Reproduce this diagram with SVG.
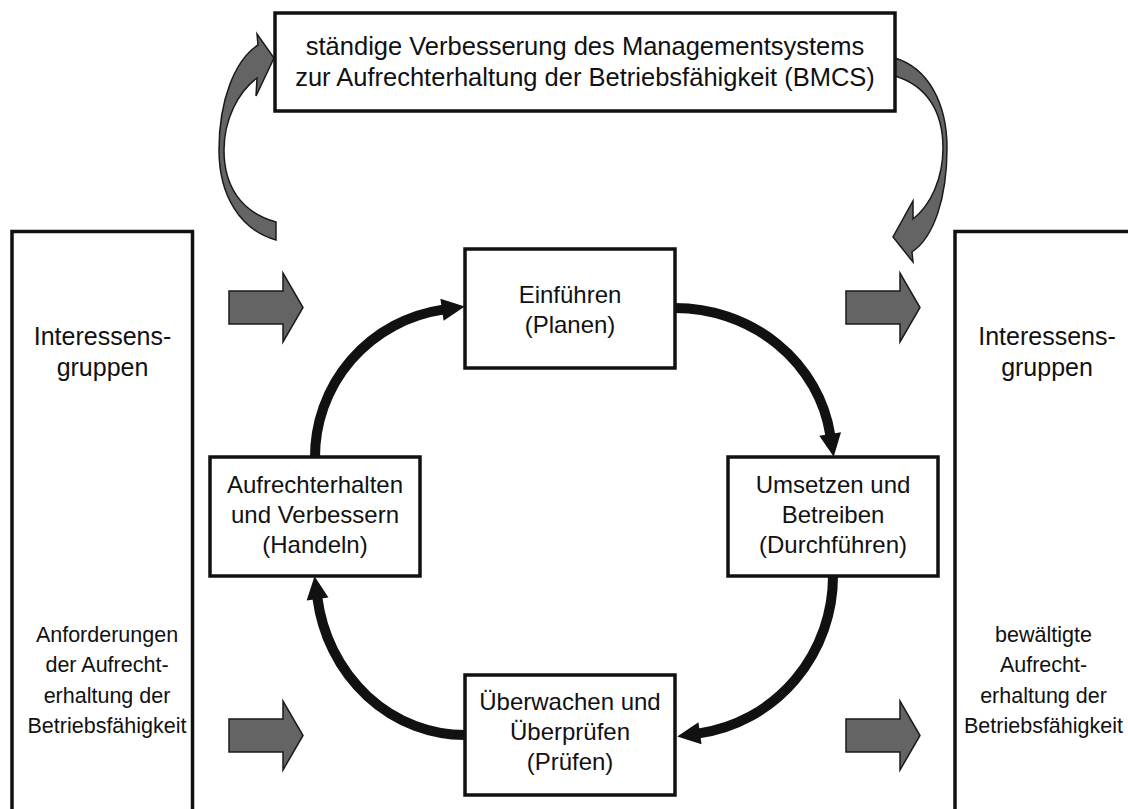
<svg xmlns="http://www.w3.org/2000/svg" width="1128" height="809" viewBox="0 0 1128 809">
<style>
  .box { fill: #fff; stroke: #111; stroke-width: 3.5; }
  .t { font-family: "Liberation Sans", Arial, Helvetica, sans-serif; fill: #111; text-anchor: middle; }
  .t24 { font-size: 24px; }
  .t25 { font-size: 25px; }
  .t26 { font-size: 25.5px; }
  .t21 { font-size: 21.5px; }
  .ga { fill: #646464; stroke: #1a1a1a; stroke-width: 1.5; stroke-linejoin: miter; }
  .cyc { fill: none; stroke: #111; stroke-width: 10; marker-end: url(#ah); }
</style>
<defs>
  <marker id="ah" markerUnits="userSpaceOnUse" markerWidth="28" markerHeight="28" viewBox="-3 -14 28 28" refX="0" refY="0" orient="auto">
    <path d="M-1,-11 L22,0 L-1,11 Z" fill="#111"/>
  </marker>
  <path id="blk" d="M0,0 H54 V-18 L74,16.5 L54,51 V33 H0 Z"/>
</defs>
<rect width="1128" height="809" fill="#fff"/>

<g id="connectors">
  <!-- curved gray arrows -->
  <path class="ga" d="M276,222 C240,212 224,185 224,150 C224,120 238,92 257,78 L256,96 L274,58 L257,34 L258,45 C235,60 219,100 219,150 C219,195 240,230 276,240 Z"/>
  <path class="ga" d="M895,76 C928,86 943,113 943,148 C943,178 931,205 913,219 L913,201 L893,237 L913,262 L912,252 C934,237 947,198 947,148 C947,103 928,68 895,58 Z"/>
  <!-- block arrows -->
  <use href="#blk" class="ga" transform="translate(229,291)"/>
  <use href="#blk" class="ga" transform="translate(229,719)"/>
  <use href="#blk" class="ga" transform="translate(846,291)"/>
  <use href="#blk" class="ga" transform="translate(846,719)"/>
  <!-- cycle arrows -->
  <path class="cyc" d="M315,458 A150,149 0 0 1 443,309.6"/>
  <path class="cyc" d="M674,308 A157,149 0 0 1 830.3,435"/>
  <path class="cyc" d="M833,575 A156,159 0 0 1 699,733.4"/>
  <path class="cyc" d="M466,735 A149,159 0 0 1 317.4,598"/>
</g>

<g id="node-top">
  <rect class="box" x="275" y="13" width="620" height="98"/>
  <text class="t t26" x="585" y="55">ständige Verbesserung des Managementsystems</text>
  <text class="t t26" x="585" y="86">zur Aufrechterhaltung der Betriebsfähigkeit (BMCS)</text>
</g>

<g id="node-left">
  <rect class="box" x="12" y="231.5" width="180.5" height="620"/>
  <text class="t t25" x="102.5" y="345">Interessens-</text>
  <text class="t t25" x="102.5" y="376">gruppen</text>
  <text class="t t21" x="107" y="642">Anforderungen</text>
  <text class="t t21" x="107" y="672">der Aufrecht-</text>
  <text class="t t21" x="107" y="703">erhaltung der</text>
  <text class="t t21" x="107" y="733">Betriebsfähigkeit</text>
</g>

<g id="node-right">
  <rect class="box" x="955" y="231.5" width="184" height="620"/>
  <text class="t t25" x="1047" y="345">Interessens-</text>
  <text class="t t25" x="1047" y="376">gruppen</text>
  <text class="t t21" x="1043.5" y="642">bewältigte</text>
  <text class="t t21" x="1043.5" y="672">Aufrecht-</text>
  <text class="t t21" x="1043.5" y="703">erhaltung der</text>
  <text class="t t21" x="1043.5" y="733">Betriebsfähigkeit</text>
</g>

<g id="node-plan">
  <rect class="box" x="465" y="249" width="210" height="119"/>
  <text class="t t24" x="570" y="303">Einführen</text>
  <text class="t t24" x="570" y="333">(Planen)</text>
</g>

<g id="node-do">
  <rect class="box" x="728" y="457" width="210" height="119"/>
  <text class="t t24" x="833" y="493">Umsetzen und</text>
  <text class="t t24" x="833" y="523">Betreiben</text>
  <text class="t t24" x="833" y="553">(Durchführen)</text>
</g>

<g id="node-check">
  <rect class="box" x="465" y="675" width="210" height="120"/>
  <text class="t t24" x="570" y="710">Überwachen und</text>
  <text class="t t24" x="570" y="740">Überprüfen</text>
  <text class="t t24" x="570" y="770">(Prüfen)</text>
</g>

<g id="node-act">
  <rect class="box" x="210" y="457" width="210" height="119"/>
  <text class="t t24" x="315" y="493">Aufrechterhalten</text>
  <text class="t t24" x="315" y="523">und Verbessern</text>
  <text class="t t24" x="315" y="553">(Handeln)</text>
</g>
</svg>
